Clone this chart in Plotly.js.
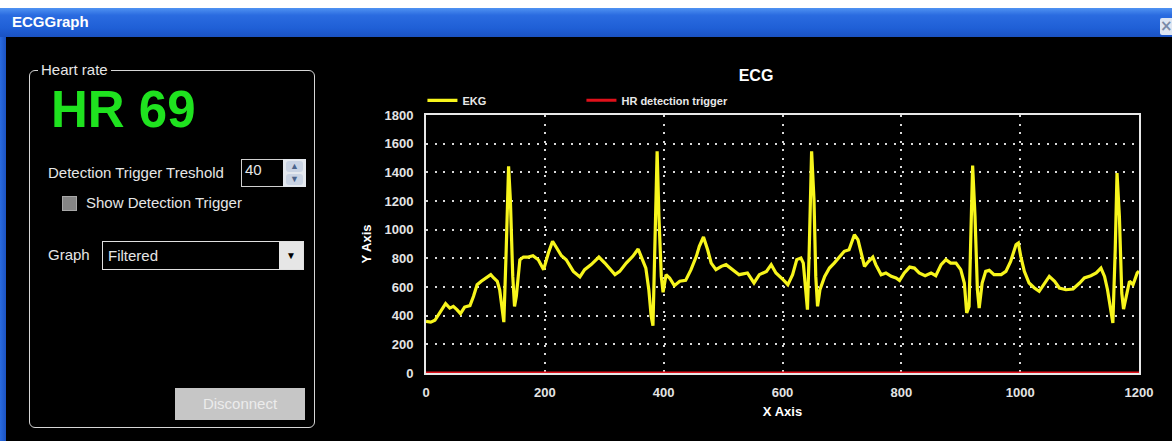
<!DOCTYPE html>
<html>
<head>
<meta charset="utf-8">
<script src="https://cdn.plot.ly/plotly-3.0.1.min.js"></script>
<style>
  html, body { margin:0; padding:0; background:#000; width:1172px; height:441px; overflow:hidden; }
  #chart { position:absolute; left:0; top:0; width:1172px; height:441px; }
  .ui { position:absolute; font-family:"Liberation Sans", Arial, sans-serif; color:#e6e6e6; font-size:15px; line-height:18px; white-space:nowrap; z-index:5; }
  #topstrip { position:absolute; left:0; top:0; width:1172px; height:8px; background:#fff; z-index:6; }
  #titlebar { position:absolute; left:0; top:8px; width:1172px; height:29px; z-index:6;
    background:linear-gradient(#4f92f2 0%, #2a6be0 25%, #1f5fd6 70%, #1a52c2 100%); }
  #titletext { position:absolute; left:12px; top:5px; color:#fff; font-family:"Liberation Sans", Arial, sans-serif; font-weight:bold; font-size:15px; line-height:18px; }
  #closebtn { position:absolute; left:1160px; top:10px; width:12px; height:17px; background:#dfe6f2; color:#7a8aa8; font:bold 15px/17px "DejaVu Sans", sans-serif; text-align:center; border-radius:2px 0 0 2px; }
  #leftborder { position:absolute; left:0; top:37px; width:6px; height:404px; background:linear-gradient(90deg,#2a6be0,#1a52c2); z-index:6; }
  #group { position:absolute; left:29px; top:70px; width:284px; height:356px; border:1.5px solid #d6d6d6; border-radius:6px; z-index:4; }
</style>
</head>
<body>
<div id="chart"></div>
<div id="topstrip"></div>
<div id="titlebar"><div id="titletext">ECGGraph</div><div id="closebtn">×</div></div>
<div id="leftborder"></div>
<div id="group"></div>
<div class="ui" style="left:38px; top:61px; background:#000; padding:0 3px;">Heart rate</div>
<div class="ui" style="left:51px; top:84px; font-size:51px; line-height:51px; font-weight:bold; color:#1fe21f;">HR 69</div>
<div class="ui" style="left:48px; top:164px;">Detection Trigger Treshold</div>
<div class="ui" style="left:241px; top:159px; width:41px; height:26px; border:1px solid #d0d0d0; border-right:none; background:#000;"><span style="position:absolute; left:3px; top:1px;">40</span></div>
<div class="ui" style="left:283px; top:159px; width:23px; height:28px; background:#e4e8ee;">
  <div style="position:absolute; left:3px; top:2px; width:17px; height:11px; background:#c9d3e3; border-radius:3px; color:#4b648c; font-size:9px; line-height:11px; text-align:center;">▲</div>
  <div style="position:absolute; left:3px; top:15px; width:17px; height:11px; background:#c9d3e3; border-radius:3px; color:#4b648c; font-size:9px; line-height:11px; text-align:center;">▼</div>
</div>
<div class="ui" style="left:62px; top:196px; width:13px; height:13px; background:#858585; border:1px solid #a8a8a8;"></div>
<div class="ui" style="left:86px; top:194px;">Show Detection Trigger</div>
<div class="ui" style="left:48px; top:246px;">Graph</div>
<div class="ui" style="left:102px; top:241px; width:200px; height:27px; border:1px solid #e0e0e0; background:#000;">
  <span style="position:absolute; left:5px; top:5px;">Filtered</span>
  <div style="position:absolute; right:0; top:0; width:24px; height:27px; background:#e6e6e6; color:#000; font-size:10px; line-height:27px; text-align:center;">▼</div>
</div>
<div class="ui" style="left:175px; top:388px; width:130px; height:32px; background:#c6c6c6; color:#ececec; line-height:32px; text-align:center;">Disconnect</div>

<script>
// ECG sample index (x) and filtered signal (y)
var sampleIndex = [0,8,15,23,33,40,46,52,58,65,74,80,86,93,102,109,114,120,124,129,131,135,139,142,146,149,152,158,164,172,180,189,198,206,213,220,228,236,248,259,267,278,291,301,309,318,326,337,348,357,362,370,375,379,382,385,389,392,396,399,404,410,418,427,437,446,455,460,467,474,480,488,497,505,516,527,541,552,561,573,581,589,601,609,617,624,631,635,639,642,645,649,653,656,659,663,671,679,687,696,704,712,721,727,732,738,745,752,757,766,774,783,791,797,805,814,822,830,840,850,858,867,875,883,892,900,906,910,914,917,920,924,928,931,936,942,948,956,968,976,984,993,997,1001,1007,1015,1024,1032,1040,1049,1058,1066,1077,1089,1100,1108,1119,1128,1136,1142,1147,1153,1156,1160,1163,1167,1171,1174,1179,1184,1190,1197,1200];
var ekgValues = [360,355,368,418,484,453,465,442,414,460,470,535,616,640,663,686,663,640,581,384,355,860,1442,1209,674,465,535,790,809,809,818,790,721,837,919,872,818,790,709,670,721,756,809,767,732,686,709,767,814,865,814,732,581,395,330,860,1547,1093,674,563,686,663,609,640,646,721,814,884,949,860,767,721,744,756,721,686,698,628,686,709,756,698,651,616,686,791,802,767,581,442,860,1547,1209,674,465,581,674,732,767,814,849,860,965,930,837,744,779,809,756,686,698,674,663,646,698,739,732,698,679,698,679,756,791,767,767,721,628,419,465,977,1447,1093,581,453,628,709,716,686,686,709,779,895,907,814,709,628,593,570,616,674,640,593,581,586,628,663,679,698,732,674,581,419,349,860,1395,1093,558,446,558,640,616,698,710];
// HR detection trigger (all zero in this view)
var triggerX = [0, 1200];
var triggerValues = [0, 0];

var tickVals = [0,200,400,600,800,1000,1200];
var yTickVals = [0,200,400,600,800,1000,1200,1400,1600,1800];

var traces = [
  { x: sampleIndex, y: ekgValues, type:'scatter', mode:'lines', name:'EKG',
    line:{color:'#f7f51c', width:3.2} },
  { x: triggerX, y: triggerValues, type:'scatter', mode:'lines', name:'HR detection trigger',
    line:{color:'#e0101a', width:3} }
];

var axisFont = {family:'Liberation Sans, Arial, sans-serif', size:13, color:'#e4e4e4', weight:'bold'};
var layout = {
  width:1172, height:441,
  paper_bgcolor:'#000', plot_bgcolor:'#000',
  margin:{l:426, r:33, t:115, b:68, pad:0},
  showlegend:true,
  title:{text:'ECG', x:756/1172, xref:'container', xanchor:'center', y:1-75/441, yref:'container', yanchor:'middle',
    font:{family:'Liberation Sans, Arial, sans-serif', size:16, color:'#ffffff', weight:'bold'}},
  legend:{orientation:'h', x:-0.005, xanchor:'left', y:1.113, yanchor:'top', bgcolor:'rgba(0,0,0,0)',
    font:{family:'Liberation Sans, Arial, sans-serif', size:11, color:'#e8e8e8', weight:'bold'},
    entrywidth:114, itemclick:false},
  xaxis:{range:[0,1200], tickvals:tickVals, ticks:'', tickfont:axisFont, ticklabelstandoff:6,
    showgrid:true, gridcolor:'#d8d8d8', gridwidth:2, griddash:'2px,6.5px',
    showline:true, mirror:true, linecolor:'#e8e8e8', linewidth:2, zeroline:false,
    title:{text:'X Axis', font:{family:'Liberation Sans, Arial, sans-serif', size:13, color:'#ffffff', weight:'bold'}, standoff:8}},
  yaxis:{range:[0,1800], tickvals:yTickVals, ticks:'', tickfont:axisFont, ticklabelstandoff:8,
    showgrid:true, gridcolor:'#d8d8d8', gridwidth:2, griddash:'2px,6.5px',
    showline:true, mirror:true, linecolor:'#e8e8e8', linewidth:2, zeroline:false,
    title:{text:'Y Axis', font:{family:'Liberation Sans, Arial, sans-serif', size:13, color:'#ffffff', weight:'bold'}, standoff:10}}
};
Plotly.newPlot('chart', traces, layout, {displayModeBar:false, staticPlot:true});
</script>
</body>
</html>
